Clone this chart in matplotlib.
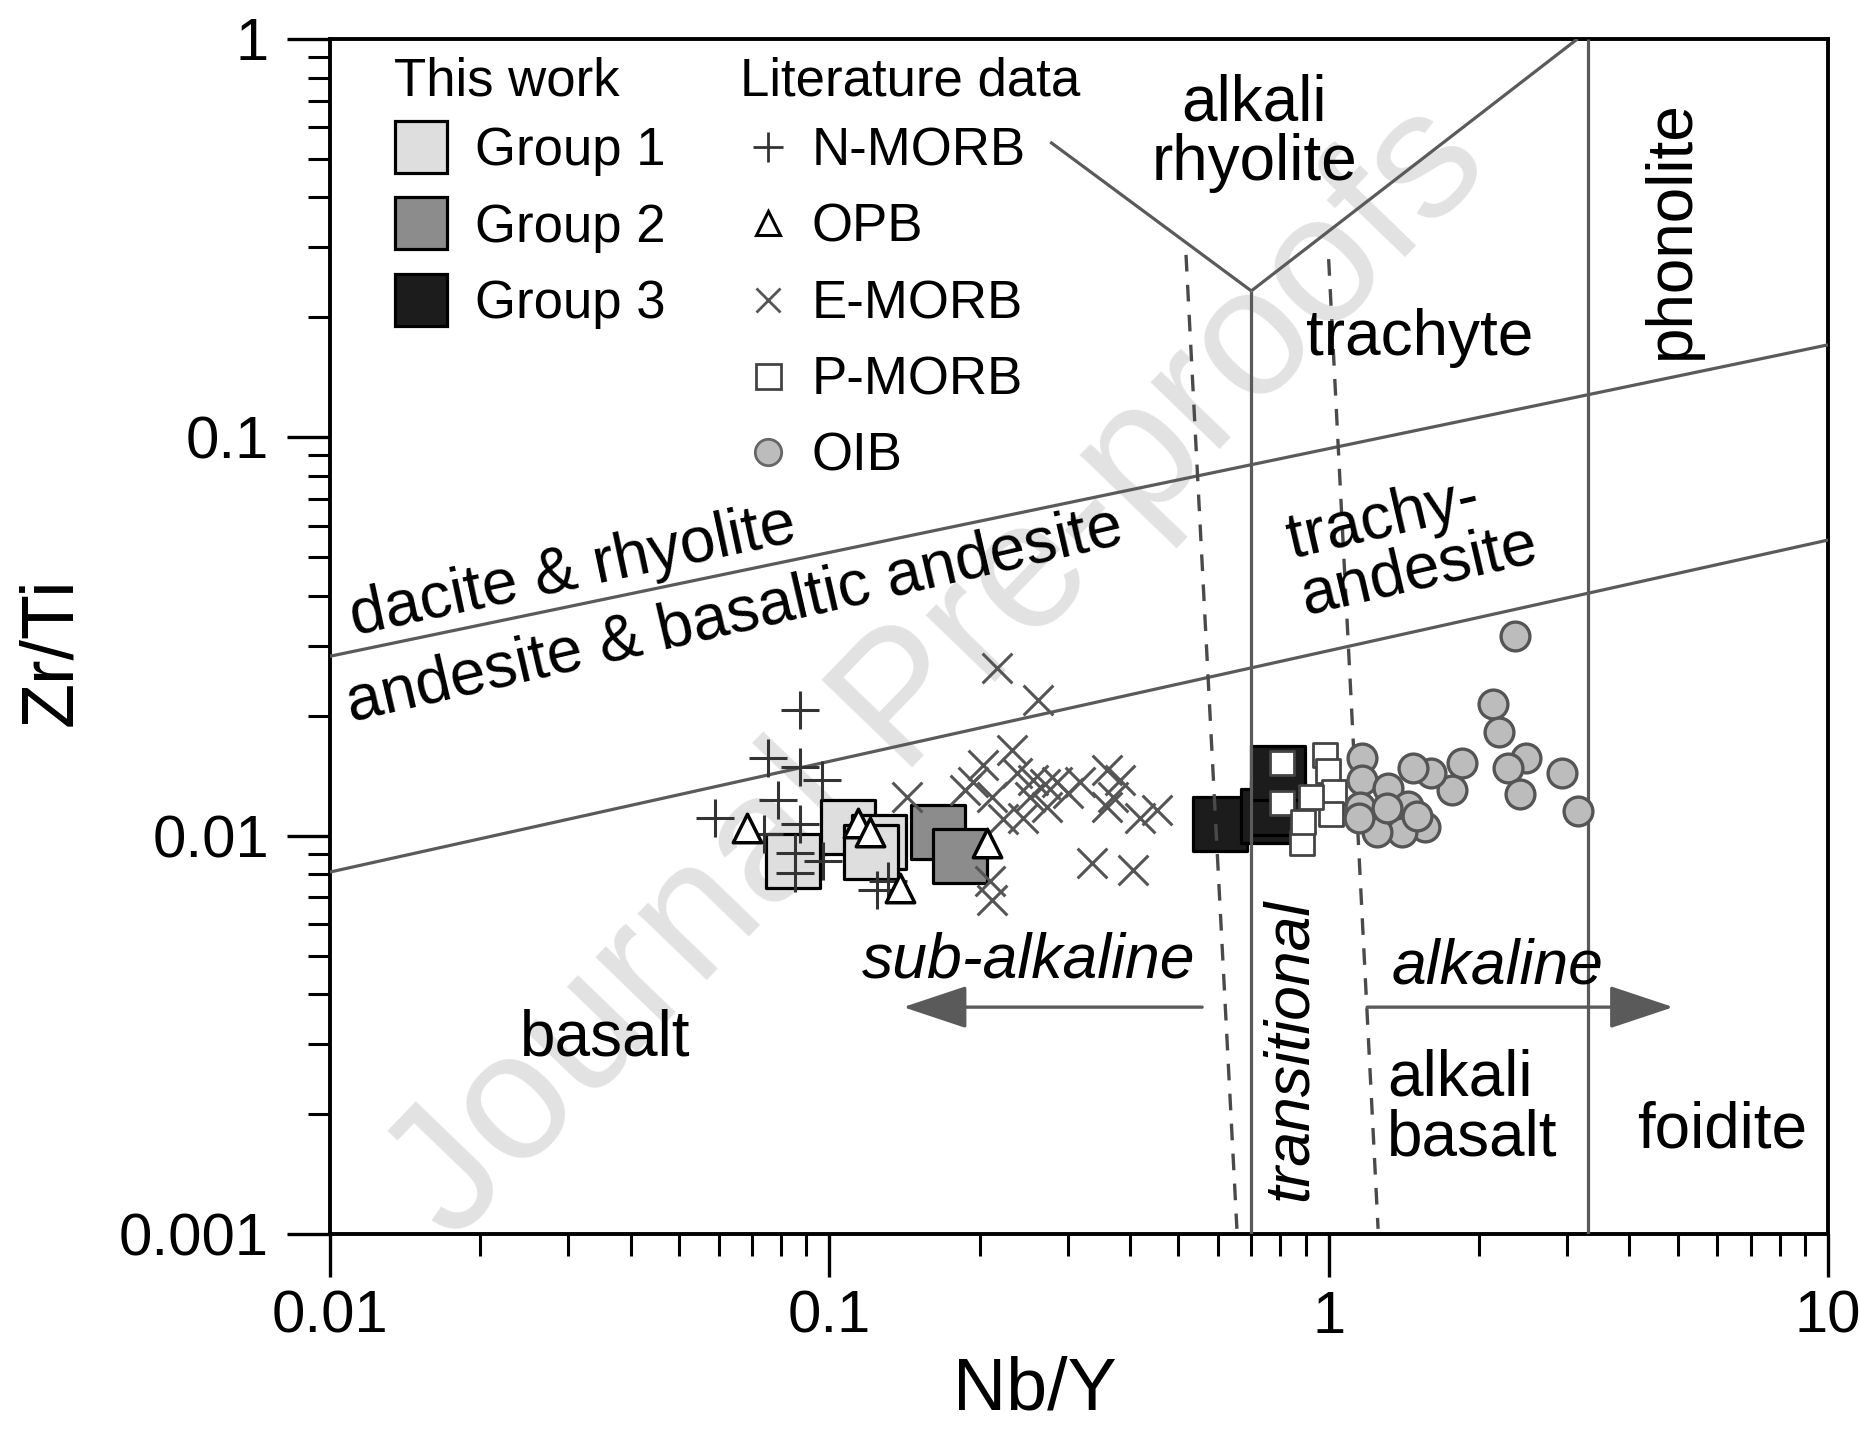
import matplotlib.pyplot as plt
from matplotlib.lines import Line2D
from matplotlib.ticker import LogLocator, FuncFormatter, NullFormatter

plt.rcParams['font.family'] = ['Liberation Sans', 'DejaVu Sans']

# ---- samples, (Nb/Y, Zr/Ti)
group1_nby = [0.0845, 0.109, 0.126, 0.121]
group1_zrti = [0.00863, 0.0105, 0.00964, 0.0091]
group2_nby = [0.165, 0.183]
group2_zrti = [0.0102, 0.0089]
group3_nby = [0.607, 0.755, 0.79, 0.79]
group3_zrti = [0.0107, 0.0112, 0.0117, 0.0144]

nmorb_nby = [0.0873, 0.0753, 0.0873, 0.0966, 0.0789, 0.059, 0.0873, 0.0853, 0.0853, 0.0973, 0.1247, 0.074, 0.131]
nmorb_zrti = [0.0207, 0.0157, 0.0149, 0.0138, 0.0123, 0.0111, 0.0107, 0.00806, 0.00904, 0.00861, 0.0073, 0.0101, 0.0077]
opb_nby = [0.0684, 0.114, 0.1207, 0.1387, 0.207]
opb_zrti = [0.01045, 0.01075, 0.0102, 0.0074, 0.0096]
emorb_nby = [0.217, 0.262, 0.232, 0.203, 0.187, 0.238, 0.212, 0.252, 0.273, 0.286, 0.318, 0.360, 0.382,
             0.370, 0.360, 0.419, 0.453, 0.336, 0.406, 0.210, 0.212, 0.244, 0.223, 0.194, 0.256, 0.143,
             0.300, 0.270]
emorb_zrti = [0.0264, 0.0219, 0.0164, 0.0150, 0.0130, 0.0144, 0.0125, 0.0125, 0.0118, 0.0136, 0.0136, 0.0146,
              0.0138, 0.0125, 0.0118, 0.0111, 0.0116, 0.00853, 0.0082, 0.0077, 0.0069, 0.0111, 0.0110, 0.0136,
              0.0138, 0.0125, 0.0128, 0.0135]
pmorb_nby = [0.807, 0.807, 0.983, 0.997, 1.026, 1.01, 0.885, 0.887, 0.92]
pmorb_zrti = [0.0152, 0.0121, 0.0159, 0.0145, 0.0129, 0.0113, 0.0096, 0.0108, 0.0125]
oib_nby = [2.36, 2.13, 2.19, 2.48, 2.29, 2.42, 2.93, 3.16, 1.85, 1.77, 1.60, 1.475, 1.167, 1.167, 1.315,
           1.443, 1.56, 1.40, 1.25, 1.157, 1.15, 1.31, 1.50]
oib_zrti = [0.0317, 0.0214, 0.0182, 0.0157, 0.0148, 0.0127, 0.0144, 0.0115, 0.0152, 0.0130, 0.0144, 0.0148,
            0.0157, 0.0138, 0.0132, 0.0119, 0.0105, 0.0102, 0.0102, 0.0118, 0.0111, 0.0117, 0.0112]

group_labels = ['Group 1', 'Group 2', 'Group 3']
lit_labels = ['N-MORB', 'OPB', 'E-MORB', 'P-MORB', 'OIB']

# ---- field boundaries (Pearce 1996)
upper_x, upper_y = [0.01, 10], [0.0282, 0.1706]
lower_x, lower_y = [0.01, 10], [0.0081, 0.0552]
mid_x, mid_y = [0.70, 0.70], [0.001, 0.233]
yleft_x, yleft_y = [0.277, 0.70], [0.551, 0.233]
yright_x, yright_y = [0.70, 3.15], [0.233, 1.0]
phon_x, phon_y = [3.3, 3.3], [0.001, 1.0]
dash1_x, dash1_y = [0.518, 0.655], [0.287, 0.00103]
dash2_x, dash2_y = [1.0, 1.256], [0.28, 0.00103]

line_c = '#5a5a5a'

fig = plt.figure(figsize=(18.6, 14.3), dpi=100)
ax = fig.add_axes([0.1774, 0.1371, 0.8054, 0.8357])
ax.set_xscale('log')
ax.set_yscale('log')
ax.set_xlim(0.01, 10)
ax.set_ylim(0.001, 1)

# watermark
ax.text(0.505, 0.530, 'Journal Pre-proofs', transform=fig.transFigure, fontsize=131,
        color='#e2e2e2', rotation=46, ha='center', va='center', zorder=0.5, clip_on=False)

for xs, ys in [(upper_x, upper_y), (lower_x, lower_y), (mid_x, mid_y), (yleft_x, yleft_y),
               (yright_x, yright_y), (phon_x, phon_y)]:
    ax.plot(xs, ys, color=line_c, lw=2.3, zorder=3, solid_capstyle='butt')
for xs, ys in [(dash1_x, dash1_y), (dash2_x, dash2_y)]:
    ax.plot(xs, ys, color='#4a4a4a', lw=2.4, ls=(0, (5, 4)), zorder=3)

# arrows
arr = dict(arrowstyle='-|>,head_length=0.45,head_width=0.15', mutation_scale=90,
           color=line_c, lw=2.4, shrinkA=0, shrinkB=0)
ax.annotate('', xy=(0.1406, 0.00371), xytext=(0.558, 0.00371), arrowprops=arr, zorder=3)
ax.annotate('', xy=(4.9, 0.00371), xytext=(1.194, 0.00371), arrowprops=arr, zorder=3)

# this work
ax.scatter(group1_nby, group1_zrti, marker='s', s=1480, c='#dedede', edgecolors='black', linewidths=2.3, zorder=2)
ax.scatter(group2_nby, group2_zrti, marker='s', s=1480, c='#8c8c8c', edgecolors='black', linewidths=2.3, zorder=2)
ax.scatter(group3_nby, group3_zrti, marker='s', s=1480, c='#1c1c1c', edgecolors='black', linewidths=2.3, zorder=2)

# literature
ax.scatter(nmorb_nby, nmorb_zrti, marker='+', s=780, c='#333333', linewidths=2.2, zorder=4)
ax.scatter(opb_nby, opb_zrti, marker='^', s=420, c='white', edgecolors='black', linewidths=2.5, zorder=5)
ax.scatter(emorb_nby, emorb_zrti, marker='x', s=460, c='#555555', linewidths=2.2, zorder=4)
ax.scatter(pmorb_nby, pmorb_zrti, marker='s', s=300, c='white', edgecolors='#444444', linewidths=2.0, zorder=4)
ax.scatter(oib_nby, oib_zrti, marker='o', s=430, c='#bcbcbc', edgecolors='#555555', linewidths=2.4, zorder=4)

# field names
fs = 46
ax.text(0.71, 0.58, 'alkali\nrhyolite', fontsize=fs, ha='center', va='center', linespacing=1.0)
ax.text(4.87, 0.333, 'phonolite', fontsize=fs, rotation=90, ha='center', va='center')
ax.text(1.52, 0.177, 'trachyte', fontsize=fs, ha='center', va='center')
ax.text(1.47, 0.0545, 'trachy-\nandesite', fontsize=fs, ha='center', va='center', rotation=13,
        multialignment='left', linespacing=0.95, rotation_mode='anchor')
ax.text(0.0307, 0.0460, 'dacite & rhyolite', fontsize=fs, ha='center', va='center', rotation=12,
        rotation_mode='anchor')
ax.text(0.0647, 0.0356, 'andesite & basaltic andesite', fontsize=fs, ha='center', va='center', rotation=13,
        rotation_mode='anchor')
ax.text(0.0356, 0.0031, 'basalt', fontsize=fs, ha='center', va='center')
ax.text(0.251, 0.00485, 'sub-alkaline', fontsize=45, style='italic', ha='center', va='center')
ax.text(2.18, 0.00468, 'alkaline', fontsize=45, style='italic', ha='center', va='center')
ax.text(0.838, 0.0029, 'transitional', fontsize=45, style='italic', rotation=90, ha='center', va='center')
ax.text(1.31, 0.00207, 'alkali\nbasalt', fontsize=fs, ha='left', va='center', linespacing=1.0)
ax.text(6.14, 0.00182, 'foidite', fontsize=fs, ha='center', va='center')

# legends
h1 = [Line2D([], [], ls='', marker='s', ms=38, mfc=c, mec='black', mew=2.3)
      for c in ['#dedede', '#8c8c8c', '#1c1c1c']]
leg1 = ax.legend(h1, group_labels, title='This work', loc='upper left', bbox_to_anchor=(0.043, 0.985),
                 frameon=False, fontsize=38, title_fontsize=38, handlelength=1.0, handletextpad=0.52,
                 labelspacing=0.5, borderpad=0, borderaxespad=0, alignment='left')
leg1._legend_box.sep = 14
ax.add_artist(leg1)
h2 = [Line2D([], [], ls='', marker='+', ms=21, mec='#333333', mew=2.0),
      Line2D([], [], ls='', marker='^', ms=17, mfc='white', mec='black', mew=2.2),
      Line2D([], [], ls='', marker='x', ms=17, mec='#555555', mew=2.0),
      Line2D([], [], ls='', marker='s', ms=18, mfc='white', mec='#444444', mew=2.0),
      Line2D([], [], ls='', marker='o', ms=19, mfc='#bcbcbc', mec='#666666', mew=2.0)]
leg2 = ax.legend(h2, lit_labels, title='Literature data', loc='upper left', bbox_to_anchor=(0.274, 0.985),
                 frameon=False, fontsize=38, title_fontsize=38, handlelength=1.06, handletextpad=0.28,
                 labelspacing=0.5, borderpad=0, borderaxespad=0, alignment='left')
leg2._legend_box.sep = 14

# axes styling
for sp in ax.spines.values():
    sp.set_linewidth(2.8)
ax.xaxis.set_major_locator(LogLocator(base=10, numticks=10))
ax.yaxis.set_major_locator(LogLocator(base=10, numticks=10))
ax.xaxis.set_minor_locator(LogLocator(base=10, subs=range(2, 10), numticks=10))
ax.yaxis.set_minor_locator(LogLocator(base=10, subs=range(2, 10), numticks=10))
fmt = FuncFormatter(lambda v, p: f'{v:g}')
ax.xaxis.set_major_formatter(fmt)
ax.yaxis.set_major_formatter(fmt)
ax.xaxis.set_minor_formatter(NullFormatter())
ax.yaxis.set_minor_formatter(NullFormatter())
ax.tick_params(which='major', direction='out', length=31, width=2.4, labelsize=43)
ax.tick_params(which='minor', direction='out', length=16, width=2.2)
ax.tick_params(axis='x', which='major', pad=9)
ax.tick_params(axis='y', which='major', pad=13)
ax.tick_params(top=False, right=False, which='both')

ax.set_xlabel('Nb/Y', fontsize=53)
ax.set_ylabel('Zr/Ti', fontsize=53)
ax.xaxis.set_label_coords(0.4706, -0.102)
ax.yaxis.set_label_coords(-0.163, 0.487)

fig.savefig('out.png', dpi=100, facecolor='white')
